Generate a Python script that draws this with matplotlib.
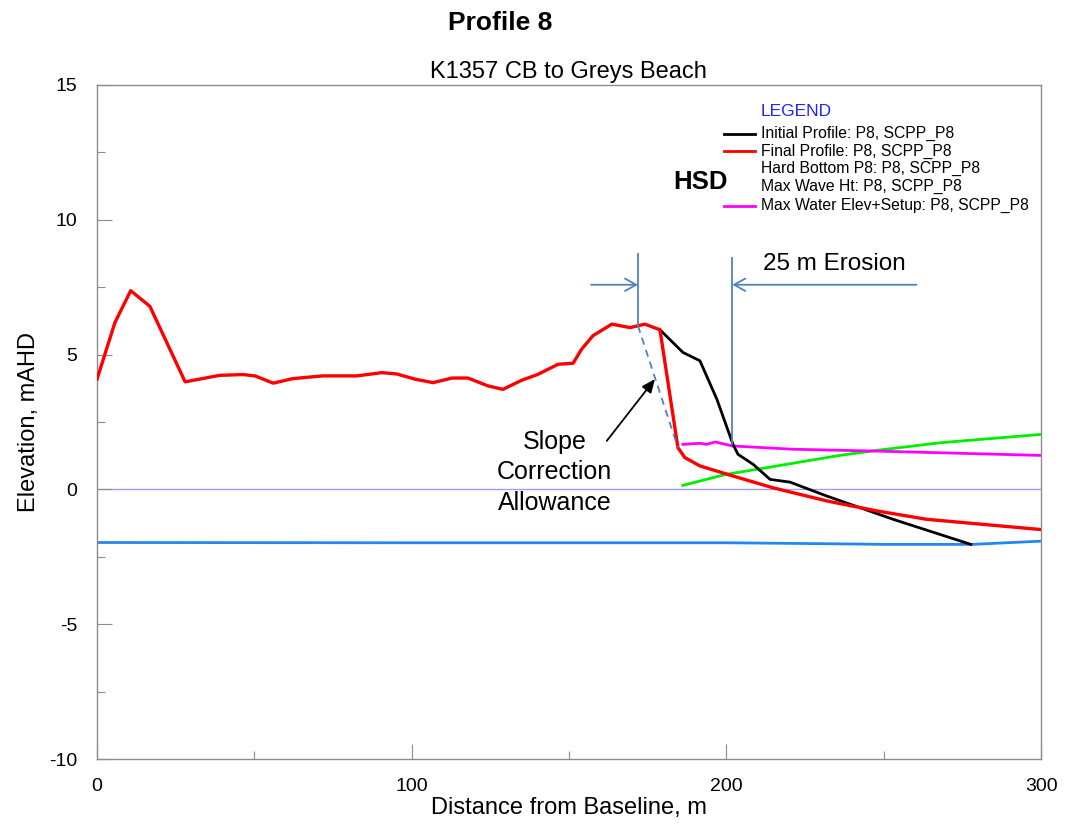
import matplotlib
matplotlib.use("Agg")
import matplotlib.pyplot as plt

plt.rcParams['font.family'] = ['Liberation Sans', 'DejaVu Sans']
plt.rcParams['axes.unicode_minus'] = False

# ---- profile data (distance from baseline m, elevation mAHD) ----
final_x = [0, 5.7, 10.7, 16.8, 28, 39, 46.4, 50.2, 56, 62.3, 71.8, 82.6, 90.5, 95.3,
           101, 106.8, 112.8, 117.9, 124.2, 129, 135, 140, 146.5, 151.3, 154, 157.6,
           163.6, 169.4, 174.1, 178.9, 184.6, 186.8, 191.6, 202, 214.8, 232, 247.9,
           263.7, 300]
final_z = [4.09, 6.19, 7.37, 6.79, 3.99, 4.23, 4.26, 4.21, 3.94, 4.11, 4.21, 4.21, 4.33,
           4.28, 4.09, 3.96, 4.13, 4.13, 3.84, 3.71, 4.05, 4.26, 4.64, 4.68, 5.20, 5.70,
           6.13, 6.00, 6.13, 5.92, 1.55, 1.18, 0.87, 0.50, 0.06, -0.43, -0.80, -1.11,
           -1.49]

initial_x = [178.9, 186.2, 191.6, 197, 202.1, 203.7, 208.5, 213.9, 220.2, 232, 253, 277.7]
initial_z = [5.92, 5.08, 4.77, 3.34, 1.67, 1.30, 0.93, 0.37, 0.27, -0.25, -1.11, -2.04]

hard_x = [0, 100, 200, 236, 250, 278, 300]
hard_z = [-1.97, -1.98, -1.98, -2.02, -2.04, -2.04, -1.92]

wave_x = [186.2, 200, 210, 236, 248, 268, 300]
wave_z = [0.15, 0.56, 0.75, 1.26, 1.45, 1.73, 2.04]

water_x = [186.2, 191.6, 193.7, 196.4, 202, 221, 247.9, 300]
water_z = [1.67, 1.71, 1.67, 1.76, 1.61, 1.49, 1.42, 1.26]

legend_labels = ["Initial Profile: P8, SCPP_P8",
                 "Final Profile: P8, SCPP_P8",
                 "Hard Bottom P8: P8, SCPP_P8",
                 "Max Wave Ht: P8, SCPP_P8",
                 "Max Water Elev+Setup: P8, SCPP_P8"]
legend_colors = ["black", "#ff0000", None, None, "#ff00ff"]

x_ticks = [0, 100, 200, 300]
y_ticks = [-10, -5, 0, 5, 10, 15]

# ---- figure ----
fig = plt.figure(figsize=(10.65, 8.25), dpi=100)
ax = fig.add_axes([0.0911, 0.08, 0.8864, 0.817])

ax.set_xlim(0, 300)
ax.set_ylim(-10, 15)
ax.set_xticks(x_ticks)
ax.set_yticks(y_ticks)
ax.set_xticks([50, 150, 250], minor=True)
ax.set_yticks([-7.5, -2.5, 2.5, 7.5, 12.5], minor=True)
ax.tick_params(which='both', direction='in', color='#8c8c8c', width=0.8,
               labelsize=14, pad=14)
ax.tick_params(which='major', length=11)
ax.tick_params(which='minor', length=6)
for s in ax.spines.values():
    s.set_color('#8c8c8c')
    s.set_linewidth(1.0)

ax.set_xlabel("Distance from Baseline, m", fontsize=17, labelpad=1)
ax.set_ylabel("Elevation, mAHD", fontsize=17, labelpad=7)

# zero datum
ax.axhline(0, color='#a0a0f0', lw=1.0, zorder=1)

# profiles
ax.plot(hard_x, hard_z, color='#2288ee', lw=2.0, zorder=2)
ax.plot(wave_x, wave_z, color='#00ee00', lw=2.0, zorder=2)
ax.plot(water_x, water_z, color='#ff00ff', lw=2.0, zorder=2)
ax.plot(initial_x, initial_z, color='black', lw=2.0, zorder=3)
ax.plot(final_x, final_z, color='#ff0000', lw=2.4, zorder=3)

# legend block
ax.text(211.0, 14.02, "LEGEND", color='#2222ff', fontsize=12.5, va='center', ha='left')
leg_rows = [13.19, 12.54, 11.89, 11.22, 10.52]
for lab, col, yy in zip(legend_labels, legend_colors, leg_rows):
    if col is not None:
        ax.plot([199.2, 209.1], [yy, yy], color=col, lw=2.0)
    ax.text(211.0, yy, lab, fontsize=11.3, va='center', ha='left')

ax.text(191.8, 11.40, "HSD", fontsize=18.5, fontweight='bold', ha='center', va='center')

# erosion markers
ann_col = '#4f81bd'
ax.plot([171.9, 171.9], [8.73, 6.07], color=ann_col, lw=1.3, zorder=4)
ax.plot([171.9, 184.6], [6.07, 1.55], color=ann_col, lw=1.3, ls=(0, (4, 3)), zorder=4)
ax.plot([201.9, 201.9], [8.57, 1.67], color=ann_col, lw=1.3, zorder=4)
ax.annotate("", xy=(171.9, 7.59), xytext=(157.0, 7.59),
            arrowprops=dict(arrowstyle='->,head_length=0.8,head_width=0.45',
                            color=ann_col, lw=1.3, shrinkA=0, shrinkB=0))
ax.annotate("", xy=(201.9, 7.59), xytext=(260.4, 7.59),
            arrowprops=dict(arrowstyle='->,head_length=0.8,head_width=0.45',
                            color=ann_col, lw=1.3, shrinkA=0, shrinkB=0))
ax.text(211.6, 8.36, "25 m Erosion", fontsize=17.5, ha='left', va='center')

ax.annotate("", xy=(177.3, 4.09), xytext=(162.0, 1.8),
            arrowprops=dict(arrowstyle='-|>,head_length=0.8,head_width=0.35',
                            color='black', lw=1.3, shrinkA=0, shrinkB=0))
ax.text(145.5, 0.63, "Slope\nCorrection\nAllowance", fontsize=18, ha='center',
        va='center', linespacing=1.33)

# titles
fig.text(500 / 1065, 1 - 22.7 / 825, "Profile 8", fontsize=19, fontweight='bold',
         ha='center', va='center')
fig.text(568 / 1065, 1 - 71.7 / 825, "K1357 CB to Greys Beach", fontsize=17,
         ha='center', va='center')

fig.savefig("out.png", dpi=100)
